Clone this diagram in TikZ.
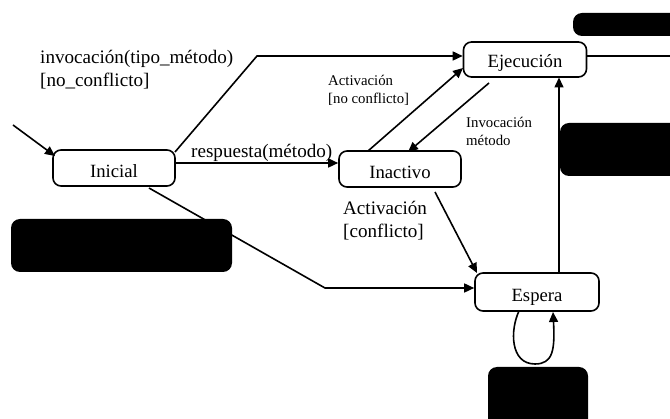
\documentclass[tikz,border=0pt]{standalone}
\usepackage{fontspec}
\setmainfont{Liberation Serif}
\usetikzlibrary{arrows.meta}
\begin{document}
\begin{tikzpicture}[x=1pt,y=-1pt,
 state/.style={draw, line width=1.6pt, rounded corners=8pt, fill=white, minimum width=122pt, minimum height=36pt, inner sep=0pt, text height=19pt, text depth=0pt, font=\fontsize{18.7}{22}\selectfont},
 redact/.style={fill=black, rounded corners=9pt},
 conn/.style={line width=1.6pt, -{Triangle[length=10pt,width=9pt]}},
 plain/.style={line width=1.6pt},
 lbl/.style={font=\fontsize{19.1}{23}\selectfont, inner sep=0pt, anchor=base west},
 slbl/.style={font=\fontsize{14.8}{18}\selectfont, inner sep=0pt, anchor=base west}]
\useasboundingbox (0,0) rectangle (670,419);
\clip (0,0) rectangle (670,419);

% redacted boxes
\fill[redact] (573,13) rectangle (690,36);
\fill[redact] (560,123) rectangle (690,176);
\fill[redact] (11,219) rectangle (232,272);
\fill[redact] (488,367) rectangle (588,430);

% states
\node[state] (ini) at (114,168) {Inicial};
\node[state, minimum height=36pt] (ina) at (400,169) {Inactivo};
\node[state, minimum height=35pt, minimum width=123pt, text height=17pt] (eje) at (525,59.5) {Ejecución};
\node[state, minimum height=38pt, minimum width=124pt] (esp) at (537,292) {Espera};

% free ends
\coordinate (start) at (13,125);
\coordinate (rightend) at (672,56);
\coordinate (b1) at (257,56);
\coordinate (b2) at (325,288);

% connectors
\draw[conn] (start) -- (55,156);
\draw[conn] (175,152) -- (b1) -- (eje.west |- b1);
\draw[conn] (ini.east |- 0,163) -- (ina.west |- 0,163);
\draw[conn] (149,188) -- (b2) -- (esp.west |- b2);
\draw[plain] (eje.east |- rightend) -- (rightend);
\draw[conn] (368,151) -- (463,68);
\draw[conn] (489,83) -- (408,152);
\draw[conn] (435,192) -- (477,273);
\draw[conn] (559,273) -- (559,77.5);
\draw[conn] (519,311) .. controls (510,330) and (510,364) .. (535,364)
   .. controls (553,364) and (555,350) .. (553,312);

% labels
\node[lbl] (l1a) at (40,64) {invocación(tipo\_método)};
\node[lbl] (l1b) at (40,87) {[no\_conflicto]};
\node[lbl] (l2) at (191,158) {respuesta(método)};
\node[slbl] (l3a) at (328,86) {Activación};
\node[slbl] (l3b) at (328,104) {[no conflicto]};
\node[slbl] (l4a) at (466,128) {Invocación};
\node[slbl] (l4b) at (466,146) {método};
\node[lbl] (l5a) at (343,215) {Activación};
\node[lbl] (l5b) at (343,238) {[conflicto]};
\end{tikzpicture}
\end{document}
